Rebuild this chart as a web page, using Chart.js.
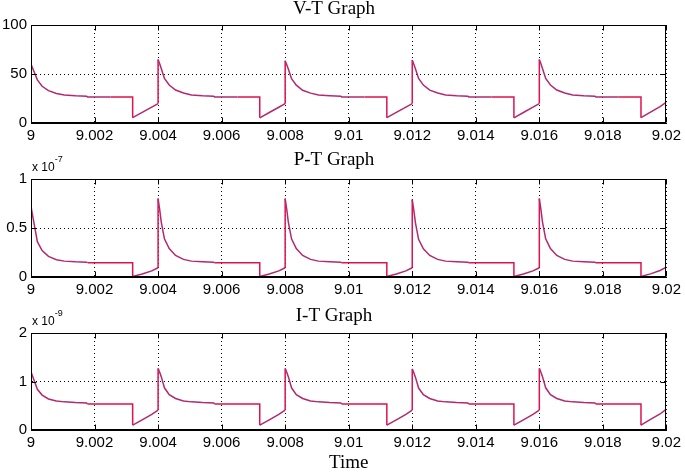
<!DOCTYPE html>
<html>
<head>
<meta charset="utf-8">
<title>V-T / P-T / I-T</title>
<script src="https://cdn.jsdelivr.net/npm/chart.js@4.4.1/dist/chart.umd.min.js"></script>
<style>
    html, body { margin: 0; padding: 0; background: #fff; }
    #wrap  { position: relative; width: 685px; height: 473px; overflow: hidden; }
    .panel { position: absolute; left: 0; width: 685px; }
</style>
</head>
<body>
<div id="wrap">
    <div class="panel" style="top:0;height:150px"><canvas id="chartV" width="685" height="150"></canvas></div>
    <div class="panel" style="top:150px;height:155px"><canvas id="chartP" width="685" height="155"></canvas></div>
    <div class="panel" style="top:305px;height:168px"><canvas id="chartI" width="685" height="168"></canvas></div>
</div>
<script>
// Tiempo (s) - muestras, 5 periodos de 0.004 s
const time = [
    9.0000, 9.00005, 9.0001, 9.0002, 9.00035, 9.00055, 9.0008, 9.00105, 9.0014, 9.00175, 9.00178, 9.0025, 9.0032, 9.0032, 9.0035, 9.0038, 9.0040,
    9.0040, 9.00405, 9.0041, 9.0042, 9.00435, 9.00455, 9.0048, 9.00505, 9.0054, 9.00575, 9.00578, 9.0065, 9.0072, 9.0072, 9.0075, 9.0078, 9.0080,
    9.0080, 9.00805, 9.0081, 9.0082, 9.00835, 9.00855, 9.0088, 9.00905, 9.0094, 9.00975, 9.00978, 9.0105, 9.0112, 9.0112, 9.0115, 9.0118, 9.0120,
    9.0120, 9.01205, 9.0121, 9.0122, 9.01235, 9.01255, 9.0128, 9.01305, 9.0134, 9.01375, 9.01378, 9.0145, 9.0152, 9.0152, 9.0155, 9.0158, 9.0160,
    9.0160, 9.01605, 9.0161, 9.0162, 9.01635, 9.01655, 9.0168, 9.01705, 9.0174, 9.01775, 9.01778, 9.0185, 9.0192, 9.0192, 9.0195, 9.0198, 9.0200
];

// Voltaje
const voltage = [
    60.0, 56.0, 52.0, 44.0, 37.5, 33.0, 30.2, 28.6, 27.8, 27.4, 26.6, 26.5, 26.5, 5.4, 10.8, 16.2, 19.8,
    64.8, 60.5, 55.6, 45.5, 38.8, 33.6, 30.6, 28.6, 27.8, 27.3, 26.6, 26.5, 26.5, 5.3, 10.7, 16.1, 19.7,
    63.6, 59.5, 55.0, 45.2, 38.6, 33.4, 30.5, 28.5, 27.8, 27.3, 26.6, 26.5, 26.5, 5.4, 10.8, 16.2, 19.8,
    64.3, 60.0, 55.4, 45.4, 38.7, 33.5, 30.6, 28.6, 27.8, 27.3, 26.6, 26.5, 26.5, 5.3, 10.7, 16.2, 19.8,
    64.7, 60.4, 55.6, 45.5, 38.8, 33.6, 30.6, 28.6, 27.8, 27.3, 26.6, 26.5, 26.5, 5.4, 11.2, 16.8, 21.2
];

// Potencia, en unidades de 1e-7
const power = [
    0.72, 0.63, 0.54, 0.36, 0.27, 0.21, 0.176, 0.162, 0.155, 0.151, 0.146, 0.146, 0.146, 0.005, 0.030, 0.062, 0.094,
    0.80, 0.69, 0.56, 0.39, 0.29, 0.22, 0.180, 0.162, 0.155, 0.150, 0.146, 0.146, 0.146, 0.005, 0.030, 0.062, 0.094,
    0.80, 0.69, 0.56, 0.39, 0.29, 0.22, 0.180, 0.162, 0.155, 0.150, 0.146, 0.146, 0.146, 0.005, 0.030, 0.062, 0.094,
    0.79, 0.68, 0.555, 0.385, 0.288, 0.22, 0.180, 0.162, 0.155, 0.150, 0.146, 0.146, 0.146, 0.005, 0.030, 0.062, 0.094,
    0.80, 0.69, 0.56, 0.39, 0.29, 0.22, 0.180, 0.162, 0.155, 0.150, 0.146, 0.146, 0.146, 0.005, 0.032, 0.066, 0.100
];

// Corriente, en unidades de 1e-9
const current = [
    1.20, 1.11, 1.02, 0.84, 0.72, 0.64, 0.60, 0.58, 0.565, 0.558, 0.535, 0.535, 0.535, 0.10, 0.21, 0.32, 0.41,
    1.27, 1.19, 1.10, 0.87, 0.73, 0.65, 0.60, 0.58, 0.565, 0.558, 0.535, 0.535, 0.535, 0.10, 0.21, 0.32, 0.41,
    1.27, 1.19, 1.10, 0.87, 0.73, 0.65, 0.60, 0.58, 0.565, 0.558, 0.535, 0.535, 0.535, 0.10, 0.21, 0.32, 0.41,
    1.26, 1.18, 1.09, 0.865, 0.73, 0.65, 0.60, 0.58, 0.565, 0.558, 0.535, 0.535, 0.535, 0.10, 0.21, 0.32, 0.41,
    1.27, 1.19, 1.10, 0.87, 0.73, 0.65, 0.60, 0.58, 0.565, 0.558, 0.535, 0.535, 0.535, 0.10, 0.22, 0.33, 0.43
];

const xTicks = [9, 9.002, 9.004, 9.006, 9.008, 9.01, 9.012, 9.014, 9.016, 9.018, 9.02];
const vTicks = [0, 50, 100];
const pTicks = [0, 0.5, 1];
const iTicks = [0, 1, 2];

const titles = ['V-T Graph', 'P-T Graph', 'I-T Graph'];
const exps   = [null, '-7', '-9'];

const SANS  = '"Liberation Sans", Arial, sans-serif';
const SERIF = '"Liberation Serif", "Times New Roman", serif';

// Caja tipo MATLAB: borde sólido, marcas hacia adentro y exponente del eje
const matlabAxes = {
    id: 'matlabAxes',
    afterDraw(chart, args, opts) {
        const { ctx, chartArea: a, scales: { x, y } } = chart;
        const L = Math.round(a.left) + 0.5, R = Math.round(a.right) - 0.5;
        const T = Math.round(a.top) + 0.5,  B = Math.round(a.bottom) - 0.5;
        ctx.save();
        ctx.strokeStyle = '#000';
        ctx.lineWidth = 1;
        ctx.beginPath();
        x.ticks.forEach(t => {
            const px = Math.round(x.getPixelForValue(t.value)) + 0.5;
            ctx.moveTo(px, B); ctx.lineTo(px, B - 5);
            ctx.moveTo(px, T); ctx.lineTo(px, T + 5);
        });
        y.ticks.forEach(t => {
            const py = Math.round(y.getPixelForValue(t.value)) + 0.5;
            ctx.moveTo(L, py); ctx.lineTo(L + 5, py);
            ctx.moveTo(R, py); ctx.lineTo(R - 5, py);
        });
        ctx.stroke();
        ctx.strokeRect(L, T, R - L, B - T);

        if (opts.exp) {
            ctx.fillStyle = '#000';
            ctx.textBaseline = 'alphabetic';
            ctx.font = '12px ' + SANS;
            ctx.fillText('x 10', a.left + 1, a.top - 8);
            const w = ctx.measureText('x 10').width;
            ctx.font = '9px ' + SANS;
            ctx.fillText(opts.exp, a.left + 1 + w, a.top - 17);
        }
        ctx.restore();
    }
};

const RED    = '#e0124e';
const PURPLE = '#b02a70';

function makePanel(id, values, yTicks, idx, geo) {
    const points = time.map((t, i) => ({ x: t, y: values[i] }));
    return new Chart(document.getElementById(id), {
        type: 'line',
        data: {
            datasets: [{
                data: points,
                borderColor: RED,
                borderWidth: 1.5,
                pointRadius: 0,
                tension: 0,
                segment: {
                    borderColor: c => (c.p0.parsed.x === c.p1.parsed.x || c.p0.parsed.y === c.p1.parsed.y)
                        ? RED : PURPLE
                }
            }]
        },
        options: {
            responsive: false,
            animation: false,
            devicePixelRatio: 1,
            events: [],
            layout: { padding: { left: 0, right: 17, top: 0, bottom: 0 } },
            plugins: {
                legend: { display: false },
                tooltip: { enabled: false },
                title: {
                    display: true,
                    text: titles[idx],
                    color: '#000',
                    font: { family: SERIF, size: 19, weight: 'normal', lineHeight: 1 },
                    padding: { top: geo.titleTop, bottom: geo.titleBottom }
                },
                matlabAxes: { exp: exps[idx] }
            },
            scales: {
                x: {
                    type: 'linear',
                    min: 9,
                    max: 9.02,
                    afterBuildTicks: s => { s.ticks = xTicks.map(v => ({ value: v })); },
                    afterFit: s => { s.height = geo.xHeight; },
                    ticks: {
                        autoSkip: false,
                        maxRotation: 0,
                        padding: 4,
                        color: '#000',
                        font: { family: SANS, size: 15 },
                        callback: v => String(+v.toFixed(3))
                    },
                    grid: { color: '#000', lineWidth: 1, drawTicks: false },
                    border: { display: true, color: '#000', width: 1, dash: [1, 3] },
                    title: {
                        display: !!geo.xTitle,
                        text: geo.xTitle || '',
                        color: '#000',
                        font: { family: SERIF, size: 19, weight: 'normal', lineHeight: 1 },
                        padding: { top: 0, bottom: 0 }
                    }
                },
                y: {
                    type: 'linear',
                    min: yTicks[0],
                    max: yTicks[yTicks.length - 1],
                    afterBuildTicks: s => { s.ticks = yTicks.map(v => ({ value: v })); },
                    afterFit: s => { s.width = 31; },
                    ticks: {
                        padding: 4,
                        color: '#000',
                        font: { family: SANS, size: 15 },
                        callback: v => String(v)
                    },
                    grid: { color: '#000', lineWidth: 1, drawTicks: false },
                    border: { display: true, color: '#000', width: 1, dash: [1, 3] }
                }
            }
        },
        plugins: [matlabAxes]
    });
}

makePanel('chartV', voltage, vTicks, 0, { titleTop: 0, titleBottom: 6, xHeight: 27 });
makePanel('chartP', power,   pTicks, 1, { titleTop: 1, titleBottom: 9, xHeight: 28 });
makePanel('chartI', current, iTicks, 2, { titleTop: 2, titleBottom: 7, xHeight: 43, xTitle: 'Time' });
</script>
</body>
</html>
